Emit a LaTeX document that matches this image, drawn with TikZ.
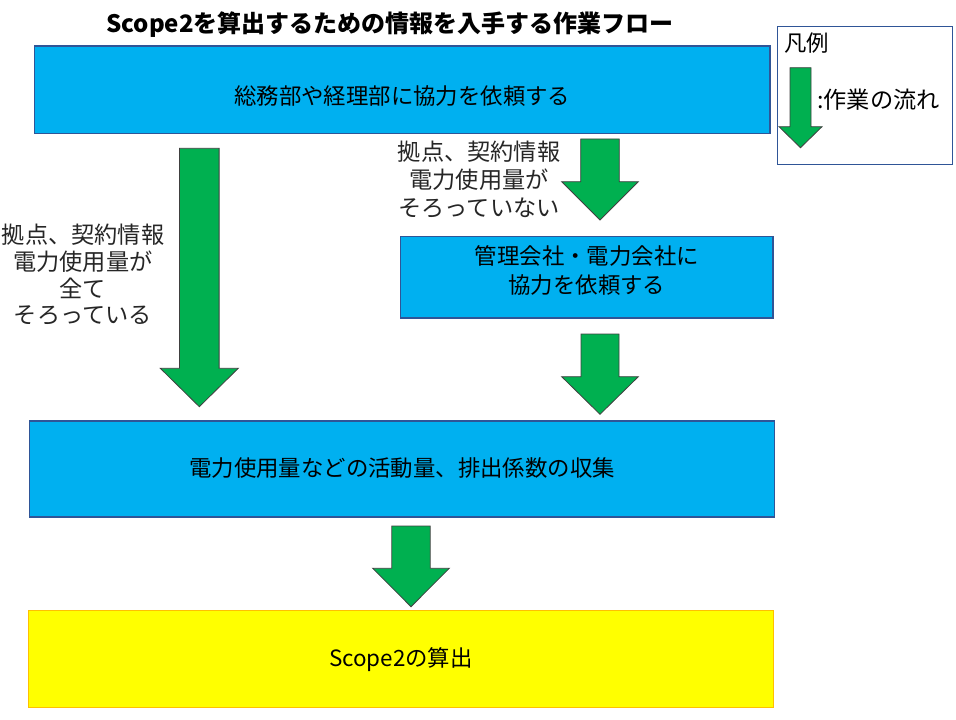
\documentclass[tikz,border=0pt]{standalone}
\usepackage{fontspec}
\setmainfont{Noto Sans CJK JP}
\usetikzlibrary{calc}
\definecolor{boxblue}{HTML}{00B0F0}
\definecolor{edgeblue}{HTML}{2F5597}
\definecolor{arrgreen}{HTML}{00B050}
\definecolor{boxyellow}{HTML}{FFFF00}
\definecolor{edgeorange}{HTML}{FFC000}
\tikzset{
  bluebox/.style={draw=edgeblue, fill=boxblue, line width=0.8pt, inner sep=0pt, outer sep=0pt},
  yellowbox/.style={draw=edgeorange, fill=boxyellow, line width=0.8pt, inner sep=0pt, outer sep=0pt},
  legendbox/.style={draw=edgeblue, fill=white, line width=0.7pt, inner sep=0pt, outer sep=0pt},
  txt/.style={inner sep=0pt, font=\fontsize{16.8}{21}\selectfont, align=center, text=black},
  note/.style={inner sep=0pt, align=center, text=black!85},
  flowarr/.style={draw=black!75, fill=arrgreen, line width=0.6pt, line join=miter},
}
\newcommand{\flowarrow}[6]{%
  \draw[flowarr] (#1-#5,#2) -- (#1+#5,#2) -- (#1+#5,#3) -- (#1+#6,#3) -- (#1,#4) -- (#1-#6,#3) -- (#1-#5,#3) -- cycle;}
\begin{document}
\begin{tikzpicture}[x=0.75pt, y=-0.75pt]
\useasboundingbox (0,0) rectangle (956,720);
\fill[white] (0,0) rectangle (956,720);

% title
\node[inner sep=0pt, font=\fontsize{18}{22}\selectfont\bfseries] (title) at (390,25) {Scope2を算出するための情報を入手する作業フロー};

% boxes
\node[bluebox, minimum width=551.6pt, minimum height=65.5pt] (b1) at (402.25,89.7) {};
\node[txt] (b1t) at ($(b1.center)+(0,6)$) {総務部や経理部に協力を依頼する};

\node[bluebox, minimum width=279.2pt, minimum height=61pt] (b2) at (586.85,277.35) {};
\node[txt, font=\fontsize{16.8}{21.75}\selectfont] (b2t) at ($(b2.center)+(0,-6.5)$) {管理会社・電力会社に\\協力を依頼する};

\node[bluebox, minimum width=558.75pt, minimum height=72pt] (b3) at (402,469) {};
\node[txt] (b3t) at ($(b3.center)+(0,-1)$) {電力使用量などの活動量、排出係数の収集};

\node[yellowbox, minimum width=558.6pt, minimum height=72.6pt] (b4) at (400.9,658.9) {};
\node[txt] (b4t) at ($(b4.center)+(0,1)$) {Scope2の算出};

% legend
\node[legendbox, minimum width=131.25pt, minimum height=103.5pt] (leg) at (864.5,95) {};
\node[txt, anchor=west] (legt) at (784,43) {凡例};
\node[txt, anchor=west, font=\fontsize{17.4}{21}\selectfont] (legd) at (817,100) {:作業の流れ};
\flowarrow{800.5}{67.7}{126.7}{147.7}{10.5}{21.5}

% annotations
\node[note, font=\fontsize{17.4}{20}\selectfont] (nl) at (83,275) {拠点、契約情報\\電力使用量が\\全て\\そろっている};
\node[note, font=\fontsize{17.4}{21}\selectfont] (nr) at (479,180) {拠点、契約情報\\電力使用量が\\そろっていない};

% flow arrows
\flowarrow{199.3}{148.3}{368.3}{406.7}{19.8}{39}
\flowarrow{600}{139}{181.7}{220}{19.3}{38.3}
\flowarrow{600}{334}{376.7}{414.3}{19}{38.3}
\flowarrow{411}{526}{568.3}{606.7}{19.2}{38.3}
\end{tikzpicture}
\end{document}
